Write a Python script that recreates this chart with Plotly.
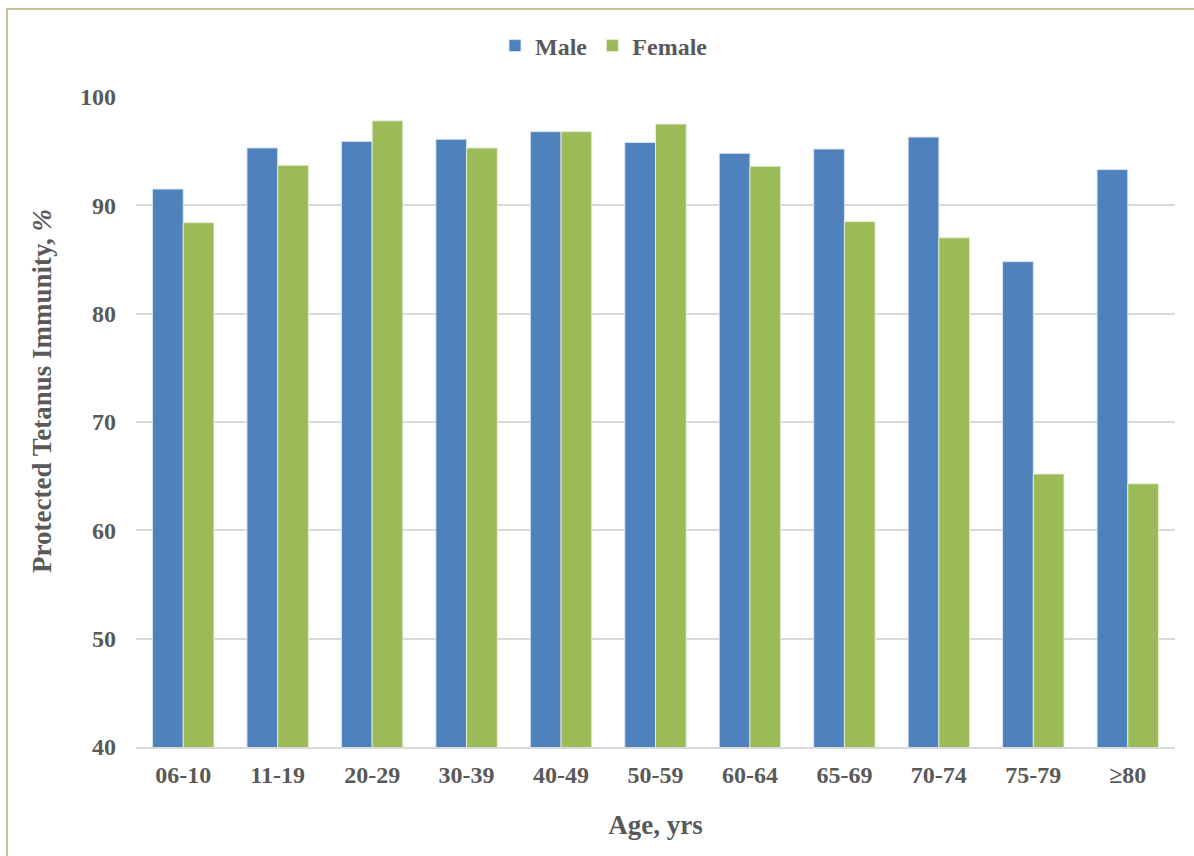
import plotly.graph_objects as go

# Age groups and share of people with protective tetanus antibody levels (%)
age_groups = ["06-10", "11-19", "20-29", "30-39", "40-49", "50-59",
              "60-64", "65-69", "70-74", "75-79", "≥80"]
male = [91.5, 95.3, 95.9, 96.1, 96.8, 95.8, 94.8, 95.2, 96.3, 84.8, 93.3]
female = [88.4, 93.7, 97.8, 95.3, 96.8, 97.5, 93.6, 88.5, 87.0, 65.2, 64.3]
y_ticks = [40, 50, 60, 70, 80, 90, 100]

W, H = 1194, 856
ML, MR, MT, MB = 136, 19, 97, 109
plot_w = W - ML - MR
plot_h = H - MT - MB

FONT = "Liberation Serif, Times New Roman, serif"
TXT = "#595959"

fig = go.Figure()
fig.add_trace(go.Bar(
    name="Male", x=age_groups, y=male,
    marker=dict(color="#4F81BD", line=dict(color="rgba(220,230,245,0.9)", width=1)),
))
fig.add_trace(go.Bar(
    name="Female", x=age_groups, y=female,
    marker=dict(color="#9BBB59", line=dict(color="rgba(230,240,215,0.9)", width=1)),
))


def px_x(px):
    return (px - ML) / plot_w


def px_y(py):
    return (H - MB - py) / plot_h


# outer chart frame
fig.add_shape(type="rect", xref="paper", yref="paper",
              x0=px_x(7), x1=px_x(W + 20), y0=px_y(H + 20), y1=px_y(9),
              line=dict(color="#C8BF95", width=2), fillcolor="rgba(0,0,0,0)",
              layer="below")

# vertical axis title, placed a little above the plot's mid-height
fig.add_annotation(
    text="<b>Protected Tetanus Immunity, <i>%</i></b>",
    xref="paper", yref="paper", x=px_x(42), y=px_y(391),
    xanchor="center", yanchor="middle", textangle=-90, showarrow=False,
    font=dict(family=FONT, size=27, color=TXT),
)

fig.update_layout(
    width=W, height=H,
    margin=dict(l=ML, r=MR, t=MT, b=MB),
    paper_bgcolor="white", plot_bgcolor="white",
    barmode="group", bargap=0.35, bargroupgap=0,
    font=dict(family=FONT, color=TXT, size=24),
    legend=dict(orientation="h", x=px_x(604), xanchor="center", y=px_y(46), yanchor="middle",
                font=dict(family=FONT, size=24, color=TXT, weight="bold"),
                itemwidth=30, traceorder="normal"),
    xaxis=dict(
        type="category",
        showgrid=False, ticks="", showline=True, linecolor="#D9D9D9", linewidth=2,
        tickfont=dict(family=FONT, size=24, color=TXT, weight="bold"),
        ticklabelstandoff=5,
        title=dict(text="<b>Age, yrs</b>", font=dict(family=FONT, size=27, color=TXT),
                   standoff=28),
    ),
    yaxis=dict(
        range=[40, 100], tickvals=y_ticks,
        showgrid=True, gridcolor="#D9D9D9", gridwidth=1.5,
        zeroline=False, showline=False, ticks="",
        tickfont=dict(family=FONT, size=24, color=TXT, weight="bold"),
        ticklabelstandoff=19,
    ),
)

fig.write_html("out.html")
